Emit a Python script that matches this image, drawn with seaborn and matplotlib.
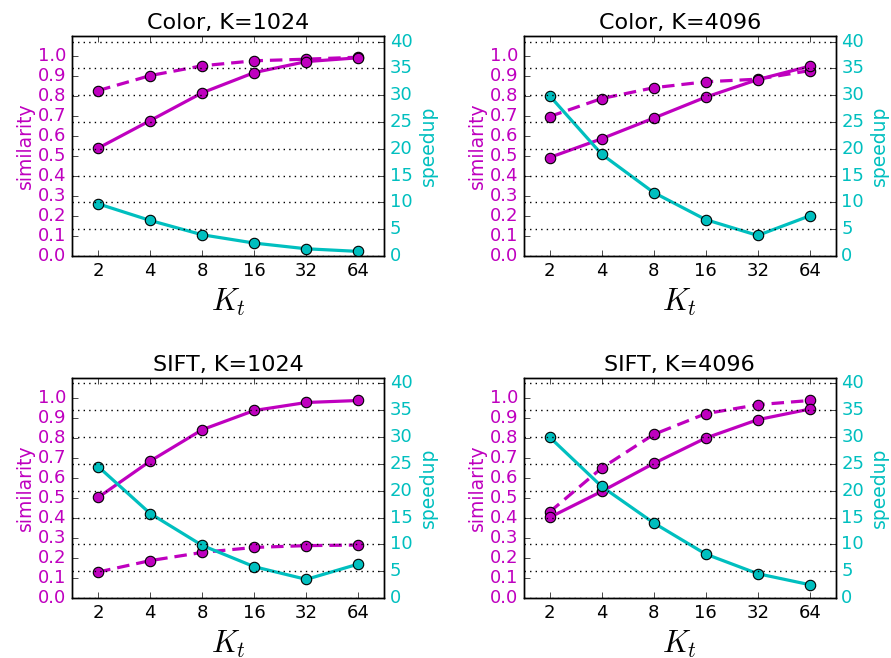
import numpy as np
import pandas as pd
import matplotlib
matplotlib.use("Agg")
import matplotlib.pyplot as plt
import seaborn as sns

kt = [2, 4, 8, 16, 32, 64]
titles = ["Color, K=1024", "Color, K=4096", "SIFT, K=1024", "SIFT, K=4096"]

sim_solid_c1024 = [0.54, 0.678, 0.817, 0.918, 0.973, 0.992]
sim_dash_c1024 = [0.828, 0.903, 0.952, 0.977, 0.985, 0.995]
speed_c1024 = [9.74, 6.64, 3.97, 2.42, 1.36, 0.87]

sim_solid_c4096 = [0.493, 0.587, 0.69, 0.795, 0.883, 0.95]
sim_dash_c4096 = [0.698, 0.788, 0.842, 0.872, 0.885, 0.928]
speed_c4096 = [29.9, 19.0, 11.85, 6.8, 3.85, 7.5]

sim_solid_s1024 = [0.503, 0.685, 0.842, 0.938, 0.978, 0.988]
sim_dash_s1024 = [0.13, 0.187, 0.228, 0.253, 0.262, 0.265]
speed_s1024 = [24.5, 15.75, 9.8, 5.83, 3.47, 6.33]

sim_solid_s4096 = [0.403, 0.533, 0.673, 0.80, 0.892, 0.945]
sim_dash_s4096 = [0.43, 0.65, 0.818, 0.922, 0.967, 0.988]
speed_s4096 = [30.0, 20.8, 14.0, 8.19, 4.53, 2.48]

panels = [
    (sim_solid_c1024, sim_dash_c1024, speed_c1024),
    (sim_solid_c4096, sim_dash_c4096, speed_c4096),
    (sim_solid_s1024, sim_dash_s1024, speed_s1024),
    (sim_solid_s4096, sim_dash_s4096, speed_s4096),
]

sns.set_style("white")
plt.style.use("classic")
plt.rcParams["font.family"] = ["DejaVu Sans"]
plt.rcParams["mathtext.fontset"] = "cm"
plt.rcParams["lines.scale_dashes"] = False

MAG = (0.75, 0, 0.75)
CYA = (0, 0.75, 0.75)
LW = 2.3
MS = 7.5

fig, axes = plt.subplots(2, 2, figsize=(8.91, 6.58), dpi=100, facecolor="white")
fig.subplots_adjust(left=0.081, right=0.938, top=0.945, bottom=0.0912,
                    wspace=0.446, hspace=0.555)

for ax, title, (ss, sd, sp) in zip(axes.flat, titles, panels):
    df = pd.DataFrame({"Kt": kt, "solid": ss, "dash": sd, "speed": sp})
    ax.set_xscale("log", base=2)
    sns.lineplot(data=df, x="Kt", y="dash", ax=ax, color=MAG, lw=LW,
                 marker="o", markersize=MS,
                 markeredgecolor="k", markeredgewidth=0.8, zorder=3)
    ax.lines[-1].set_dashes([9, 5])
    sns.lineplot(data=df, x="Kt", y="solid", ax=ax, color=MAG, lw=LW,
                 marker="o", markersize=MS,
                 markeredgecolor="k", markeredgewidth=0.8, zorder=3)
    ax.set_xlim(2 ** 0.5, 2 ** 6.5)
    ax.set_ylim(0, 1.1)
    ax.set_yticks(np.arange(0, 1.01, 0.1))
    ax.set_yticklabels([f"{v:.1f}" for v in np.arange(0, 1.01, 0.1)])
    ax.set_xticks(kt)
    ax.set_xticklabels([str(k) for k in kt])
    ax.xaxis.set_minor_locator(matplotlib.ticker.NullLocator())
    ax.tick_params(axis="y", colors=MAG, labelsize=13)
    ax.tick_params(axis="x", labelsize=13, labelcolor="k")
    ax.tick_params(axis="y", which="both", color="k")
    ax.set_ylabel("similarity", color=MAG, fontsize=13.5, labelpad=2)
    ax.set_xlabel("$K_t$", fontsize=22)
    ax.set_title(title, fontsize=16)

    ax2 = ax.twinx()
    sns.lineplot(data=df, x="Kt", y="speed", ax=ax2, color=CYA, lw=LW,
                 marker="o", markersize=MS,
                 markeredgecolor="k", markeredgewidth=0.8)
    ax2.set_ylim(0, 41)
    ax2.set_yticks(np.arange(0, 41, 5))
    ax2.set_xlim(2 ** 0.5, 2 ** 6.5)
    ax2.tick_params(axis="y", labelcolor=CYA, labelsize=13, color="k")
    ax2.set_ylabel("speedup", color=CYA, fontsize=13.5, labelpad=4)
    ax2.yaxis.grid(True, linestyle=":", color="k", linewidth=1)
    ax2.xaxis.grid(False)
    ax.grid(False)

fig.savefig("out.png", dpi=100, facecolor="white")
